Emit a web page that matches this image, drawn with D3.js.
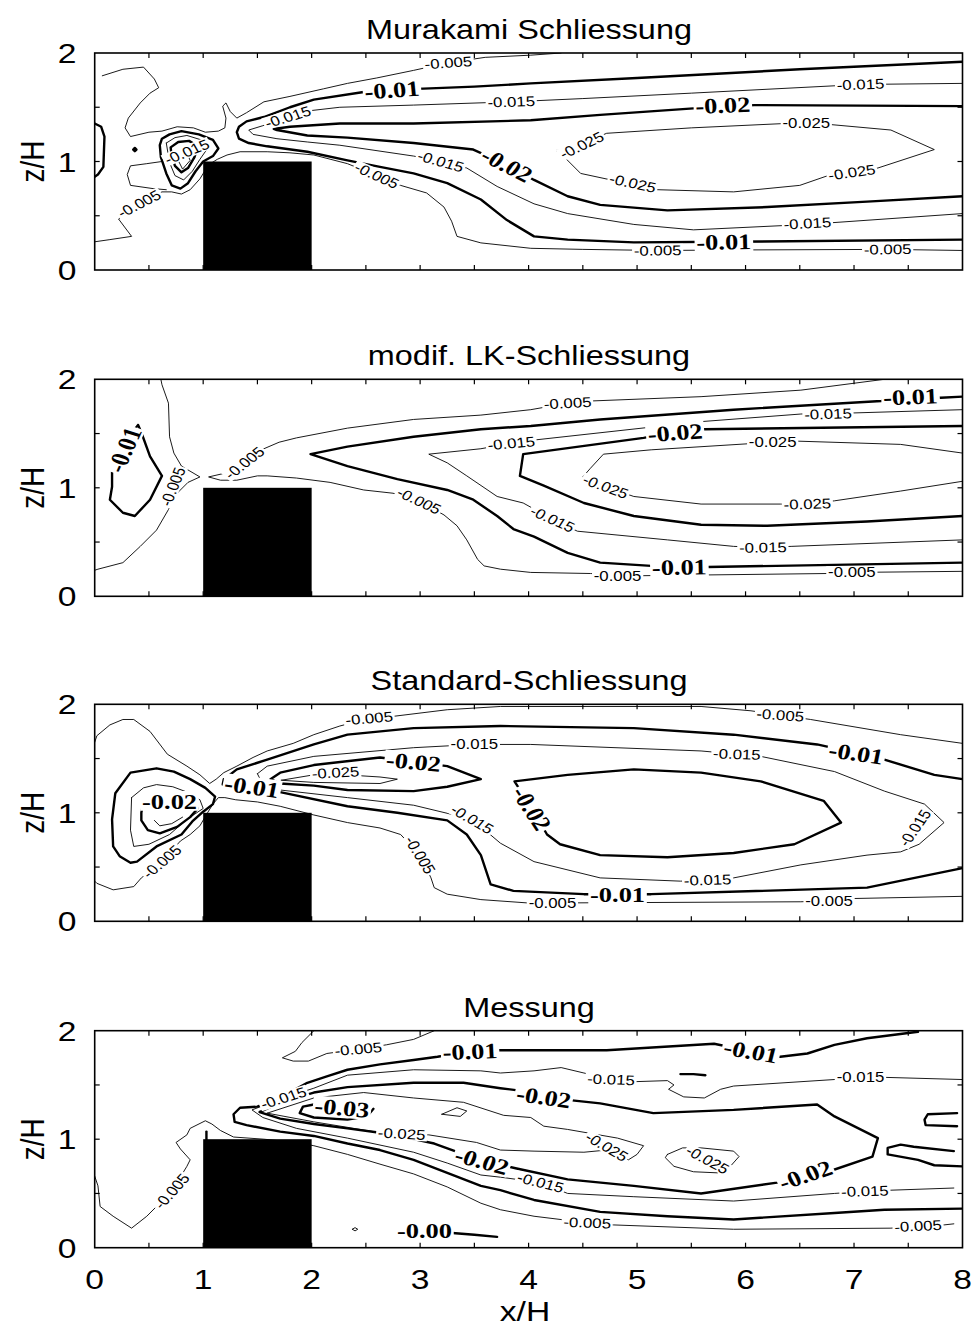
<!DOCTYPE html>
<html>
<head>
<meta charset="utf-8">
<script src="https://cdn.jsdelivr.net/npm/d3@7"></script>
<style>
  body { margin: 0; background: #fff; }
</style>
</head>
<body>
<svg id="chart" width="973" height="1327"></svg>
<script>
// ---- data -------------------------------------------------------------
const panelTitles = ["Murakami Schliessung", "modif. LK-Schliessung", "Standard-Schliessung", "Messung"];
const xTickLabels = ["0", "1", "2", "3", "4", "5", "6", "7", "8"];
const zTickLabels = ["0", "1", "2"];
const xMinorTicks = [0.5, 1, 1.5, 2, 2.5, 3, 3.5, 4, 4.5, 5, 5.5, 6, 6.5, 7, 7.5];
const zMinorTicks = [0.5, 1, 1.5];
const obstacleX = [1, 2];
const obstacleZ = [0, 1];

// contour polylines, coordinates in (x/H, z/H)
const murakamiContours = [
  { level: -0.005, pts: [[0.07,1.79],[0.26,1.85],[0.45,1.87],[0.55,1.76],[0.59,1.68],[0.51,1.63],[0.42,1.54],[0.31,1.40],[0.28,1.31],[0.33,1.23],[0.50,1.27],[0.62,1.28],[0.76,1.32],[0.91,1.31],[1.02,1.27],[1.14,1.28],[1.20,1.31],[1.21,1.40],[1.18,1.51],[1.21,1.54],[1.25,1.46],[1.31,1.40],[1.40,1.45],[1.56,1.55],[1.80,1.60],[2.11,1.67],[2.33,1.72],[2.60,1.77],[2.94,1.84],[3.26,1.91],[3.60,1.96],[4.02,1.98],[4.30,2.00]] },
  { level: -0.005, pts: [[0,0.26],[0.14,0.28],[0.34,0.31],[0.22,0.47],[0.41,0.61],[0.62,0.72],[0.71,0.72],[0.80,0.70],[0.88,0.74],[0.97,0.84],[1.05,0.97],[1.13,1.02],[1.22,1.06],[1.34,1.09],[1.59,1.09],[1.80,1.08],[2.02,1.06],[2.33,0.98],[2.60,0.87],[2.82,0.78],[3.06,0.71],[3.22,0.58],[3.29,0.45],[3.34,0.31],[3.56,0.25],[4.02,0.20],[4.50,0.19],[5.19,0.18],[6.00,0.185],[7.31,0.19],[8.00,0.18]] },
  { level: -0.005, pts: [[0.62,1.00],[0.48,0.98],[0.33,0.96],[0.30,0.88],[0.33,0.78],[0.54,0.75],[0.66,0.74]] },
  { level: -0.01, pts: [[0,1.35],[0.06,1.32],[0.09,1.23],[0.08,0.95],[0.03,0.88],[0,0.86]] },
  { level: -0.01, pts: [[0.355,1.11],[0.37,1.125],[0.385,1.11],[0.37,1.095],[0.355,1.11]] },
  { level: -0.01, pts: [[0.60,1.15],[0.62,1.21],[0.69,1.25],[0.80,1.28],[0.96,1.25],[1.09,1.20],[1.14,1.12],[1.09,1.05],[1.00,1.00],[0.93,0.91],[0.86,0.80],[0.79,0.75],[0.71,0.78],[0.66,0.89],[0.61,1.04],[0.60,1.15]] },
  { level: -0.015, pts: [[0.66,1.17],[0.74,1.22],[0.85,1.24],[0.98,1.20],[1.04,1.12],[0.97,1.02],[0.90,0.91],[0.82,0.83],[0.74,0.87],[0.69,0.99],[0.66,1.17]] },
  { level: -0.02, pts: [[0.70,1.13],[0.77,1.18],[0.87,1.19],[0.95,1.14],[0.92,1.04],[0.86,0.94],[0.80,0.90],[0.74,0.96],[0.71,1.05],[0.70,1.13]] },
  { level: -0.025, pts: [[0.76,1.03],[0.81,0.93],[0.88,1.01],[0.84,1.10],[0.77,1.10],[0.76,1.03]] },
  { level: -0.01, pts: [[8.0,1.92],[6.5,1.85],[5.0,1.77],[4.02,1.72],[3.5,1.69],[2.74,1.66],[2.48,1.64],[2.02,1.57],[1.80,1.50],[1.56,1.41],[1.40,1.37],[1.33,1.32],[1.31,1.27],[1.33,1.21],[1.42,1.17],[1.59,1.14],[1.96,1.09],[2.33,1.01],[2.63,0.95],[2.94,0.89],[3.25,0.80],[3.56,0.65],[3.80,0.46],[4.05,0.31],[4.36,0.28],[4.97,0.255],[5.80,0.26],[8.0,0.28]] },
  { level: -0.015, pts: [[8.0,1.72],[7.06,1.71],[5.5,1.63],[4.5,1.58],[3.84,1.55],[2.94,1.52],[2.26,1.50],[2.0,1.47],[1.78,1.41],[1.55,1.33],[1.42,1.29],[1.46,1.25],[1.68,1.21],[1.96,1.18],[2.26,1.15],[2.94,1.05],[3.19,1.0],[3.43,0.94],[3.71,0.77],[4.05,0.61],[4.36,0.52],[4.97,0.42],[5.52,0.37],[6.57,0.42],[8.0,0.52]] },
  { level: -0.02, pts: [[8.0,1.51],[6.08,1.52],[5.52,1.49],[4.66,1.43],[4.02,1.38],[2.94,1.35],[2.26,1.35],[1.80,1.32],[1.65,1.30],[1.68,1.29],[1.96,1.24],[2.33,1.22],[2.94,1.17],[3.49,1.11],[3.80,0.97],[4.05,0.83],[4.36,0.68],[4.66,0.60],[5.28,0.55],[6.2,0.58],[7.12,0.63],[8.0,0.68]] },
  { level: -0.025, pts: [[4.26,1.10],[4.35,1.02],[4.48,0.89],[4.76,0.83],[5.19,0.74],[5.89,0.72],[6.5,0.78],[6.76,0.87],[7.22,0.94],[7.74,1.11],[7.34,1.29],[6.79,1.34],[6.36,1.35],[5.5,1.31],[4.72,1.26],[4.6,1.21],[4.26,1.10]] }
];
const murakamiLabels = [
  ["-0.005", 3.26, 1.91, -4], ["-0.01", 2.74, 1.66, -4], ["-0.015", 1.78, 1.41, -17],
  ["-0.015", 0.85, 1.09, -22], ["-0.005", 0.41, 0.61, -27], ["-0.005", 2.60, 0.87, 24],
  ["-0.015", 3.19, 1.00, 16], ["-0.02", 3.80, 0.97, 27], ["-0.015", 3.84, 1.55, -2],
  ["-0.025", 4.49, 1.15, -25], ["-0.025", 4.96, 0.80, 12], ["-0.02", 5.79, 1.52, -2],
  ["-0.015", 7.06, 1.71, -2], ["-0.025", 6.56, 1.35, 0], ["-0.025", 6.98, 0.90, -8],
  ["-0.015", 6.57, 0.43, -3], ["-0.01", 5.80, 0.26, -1], ["-0.005", 5.19, 0.18, -1],
  ["-0.005", 7.31, 0.19, -1]
];

const lkContours = [
  { level: -0.005, pts: [[0.61,2.0],[0.62,1.95],[0.68,1.78],[0.69,1.47],[0.73,1.32],[0.80,1.20],[0.97,1.10],[0.86,1.05],[0.76,0.95],[0.68,0.80],[0.57,0.61],[0.42,0.46],[0.26,0.31],[0.03,0.25],[0,0.24]] },
  { level: -0.005, pts: [[7.28,2.0],[6.51,1.90],[5.59,1.84],[4.57,1.80],[4.36,1.78],[4.02,1.72],[3.56,1.67],[2.94,1.63],[2.33,1.55],[1.86,1.46],[1.70,1.42],[1.56,1.36],[1.39,1.24],[1.18,1.13],[1.05,1.10],[1.16,1.07],[1.31,1.07],[1.50,1.11],[1.59,1.11],[1.86,1.09],[2.17,1.05],[2.48,0.98],[2.75,0.95],[2.99,0.88],[3.22,0.75],[3.34,0.65],[3.43,0.52],[3.53,0.34],[3.59,0.28],[3.74,0.25],[4.02,0.22],[4.57,0.21],[4.80,0.20],[5.06,0.19],[6.76,0.21],[6.98,0.22],[8.0,0.23]] },
  { level: -0.01, pts: [[0.16,1.15],[0.16,1.01],[0.14,0.89],[0.26,0.77],[0.37,0.74],[0.51,0.89],[0.62,1.11],[0.51,1.29],[0.43,1.51],[0.40,1.58],[0.30,1.45],[0.20,1.25],[0.16,1.15]] },
  { level: -0.01, pts: [[8.0,1.84],[7.80,1.83],[7.52,1.84],[7.25,1.80],[5.89,1.72],[4.66,1.63],[4.02,1.57],[3.56,1.54],[2.94,1.47],[2.33,1.38],[1.99,1.31],[2.33,1.20],[2.79,1.08],[3.25,0.98],[3.49,0.89],[3.71,0.74],[3.86,0.62],[4.05,0.55],[4.36,0.40],[4.66,0.31],[5.13,0.28],[5.39,0.27],[5.65,0.27],[8.0,0.31]] },
  { level: -0.015, pts: [[8.0,1.72],[7.0,1.69],[6.76,1.69],[6.51,1.68],[5.59,1.61],[4.05,1.44],[3.84,1.41],[3.56,1.36],[3.08,1.31],[3.25,1.23],[3.43,1.11],[3.71,0.92],[3.95,0.86],[4.22,0.71],[4.45,0.60],[5.28,0.52],[5.89,0.46],[6.16,0.45],[6.42,0.46],[8.0,0.52]] },
  { level: -0.02, pts: [[8.0,1.57],[5.62,1.54],[5.35,1.51],[5.06,1.46],[3.95,1.31],[3.92,1.11],[4.14,1.02],[4.51,0.86],[4.97,0.74],[5.59,0.66],[6.2,0.65],[7.12,0.69],[8.0,0.74]] },
  { level: -0.025, pts: [[8.0,1.32],[7.43,1.40],[6.48,1.43],[6.25,1.42],[5.13,1.35],[4.69,1.31],[4.57,1.18],[4.50,1.10],[4.71,1.01],[4.97,0.92],[5.59,0.85],[6.32,0.85],[6.57,0.85],[6.82,0.88],[7.43,0.97],[8.0,1.06]] }
];
const lkLabels = [
  ["-0.01", 0.27, 1.35, -66], ["-0.005", 0.72, 1.01, -68], ["-0.005", 1.38, 1.23, -38],
  ["-0.005", 2.99, 0.88, 25], ["-0.015", 3.84, 1.41, -5], ["-0.005", 4.36, 1.78, -3],
  ["-0.02", 5.35, 1.51, -4], ["-0.025", 6.25, 1.42, 0], ["-0.015", 6.76, 1.68, -2],
  ["-0.01", 7.52, 1.84, -2], ["-0.025", 4.71, 1.01, 20], ["-0.015", 4.22, 0.71, 24],
  ["-0.025", 6.57, 0.85, -2], ["-0.015", 6.16, 0.45, -1], ["-0.01", 5.39, 0.27, -1],
  ["-0.005", 4.82, 0.19, 0], ["-0.005", 6.98, 0.22, 0]
];

const standardContours = [
  { level: -0.005, pts: [[0,1.65],[0.02,1.71],[0.14,1.81],[0.26,1.86],[0.36,1.86],[0.51,1.75],[0.67,1.54],[0.85,1.43],[0.97,1.35],[1.06,1.27],[1.12,1.31],[1.19,1.37],[1.31,1.43],[1.46,1.51],[1.59,1.57],[1.83,1.64],[2.02,1.72],[2.26,1.80],[2.53,1.87],[2.76,1.89],[3.25,1.95],[3.74,1.98],[5.59,1.98],[6.05,1.94],[6.32,1.90],[6.60,1.86],[7.43,1.72],[8.0,1.64]] },
  { level: -0.005, pts: [[0,0.37],[0.02,0.35],[0.17,0.29],[0.36,0.32],[0.43,0.40],[0.62,0.55],[0.79,0.74],[0.88,0.80],[0.97,0.88],[1.04,1.0],[1.09,1.08],[1.14,1.14],[1.20,1.14],[1.30,1.12],[1.50,1.10],[1.71,1.06],[2.02,0.98],[2.33,0.91],[2.63,0.86],[2.82,0.80],[3.0,0.61],[3.10,0.40],[3.13,0.31],[3.25,0.25],[3.56,0.20],[3.98,0.17],[4.22,0.17],[4.45,0.17],[6.51,0.18],[6.77,0.19],[7.0,0.21],[8.0,0.23]] },
  { level: -0.01, pts: [[0.19,1.18],[0.33,1.37],[0.57,1.41],[0.73,1.38],[0.88,1.31],[1.02,1.23],[1.11,1.15],[1.09,1.08],[1.00,1.01],[0.90,0.92],[0.80,0.80],[0.57,0.69],[0.39,0.55],[0.33,0.54],[0.23,0.60],[0.17,0.69],[0.16,0.94],[0.19,1.18]] },
  { level: -0.015, pts: [[0.34,1.14],[0.45,1.23],[0.57,1.26],[0.72,1.24],[0.88,1.18],[0.97,1.12],[1.0,1.04],[0.85,0.94],[0.69,0.80],[0.50,0.71],[0.36,0.69],[0.33,0.84],[0.34,1.14]] },
  { level: -0.02, pts: [[0.45,1.11],[0.43,1.0],[0.43,0.93],[0.49,0.84],[0.60,0.81],[0.76,0.87],[0.88,0.96],[0.95,1.04],[0.90,1.12],[0.70,1.15],[0.50,1.13],[0.45,1.11]] },
  { level: -0.025, pts: [[0.55,0.93],[0.60,0.88],[0.71,0.90],[0.81,0.96]] },
  { level: -0.01, pts: [[1.18,1.26],[1.19,1.31]] },
  { level: -0.01, pts: [[8.0,1.31],[7.74,1.35],[7.28,1.49],[7.02,1.55],[6.66,1.63],[5.89,1.72],[4.97,1.78],[3.74,1.80],[2.94,1.78],[2.33,1.72],[2.02,1.63],[1.59,1.49],[1.31,1.40],[1.22,1.33],[1.45,1.24],[1.71,1.19],[2.33,1.06],[2.79,1.0],[3.25,0.93],[3.43,0.80],[3.56,0.61],[3.65,0.34],[3.86,0.28],[4.51,0.25],[4.82,0.25],[5.13,0.25],[7.12,0.31],[8.0,0.49]] },
  { level: -0.015, pts: [[1.50,1.36],[1.59,1.43],[2.02,1.52],[2.94,1.60],[3.50,1.63],[4.02,1.63],[5.59,1.57],[5.92,1.54],[6.14,1.52],[6.82,1.38],[7.28,1.20],[7.65,1.08],[7.83,0.91],[7.60,0.71],[7.43,0.64],[7.12,0.61],[6.51,0.52],[5.89,0.40],[5.65,0.38],[5.40,0.37],[4.66,0.40],[4.05,0.55],[3.74,0.72],[3.48,0.94],[2.94,1.07],[2.33,1.14],[1.71,1.21],[1.55,1.26],[1.50,1.36]] },
  { level: -0.02, pts: [[1.62,1.31],[1.71,1.37],[2.02,1.44],[2.63,1.51],[2.94,1.47],[3.25,1.43],[3.56,1.31],[3.25,1.24],[2.94,1.20],[2.33,1.21],[2.02,1.25],[1.71,1.27],[1.62,1.31]] },
  { level: -0.02, pts: [[4.17,0.80],[4.29,0.71],[4.66,0.61],[5.28,0.59],[5.89,0.63],[6.45,0.71],[6.88,0.91],[6.72,1.11],[6.14,1.29],[5.59,1.37],[4.97,1.40],[4.36,1.35],[3.87,1.29],[4.03,1.04],[4.17,0.80]] },
  { level: -0.025, pts: [[1.72,1.30],[2.02,1.35],[2.22,1.37],[2.31,1.35],[2.63,1.33],[2.79,1.31],[2.63,1.27],[2.02,1.28],[1.72,1.30]] }
];
const standardLabels = [
  ["-0.005", 2.53, 1.87, -5], ["-0.015", 3.50, 1.63, 0], ["-0.02", 2.94, 1.47, 5],
  ["-0.025", 2.22, 1.37, -3], ["-0.01", 1.45, 1.24, 8], ["-0.02", 0.69, 1.11, 0],
  ["-0.005", 0.62, 0.55, -40], ["-0.015", 3.48, 0.94, 30], ["-0.005", 3.00, 0.61, 58],
  ["-0.02", 4.03, 1.04, 57], ["-0.005", 6.32, 1.90, 4], ["-0.015", 5.92, 1.54, 2],
  ["-0.01", 7.02, 1.55, 8], ["-0.015", 7.56, 0.86, -55], ["-0.015", 5.65, 0.38, -2],
  ["-0.01", 4.82, 0.25, 0], ["-0.005", 4.22, 0.17, 0], ["-0.005", 6.77, 0.19, 0]
];

const messungContours = [
  { level: -0.005, pts: [[0,0.66],[0.03,0.57],[0.05,0.38],[0.17,0.29],[0.34,0.18],[0.48,0.29],[0.71,0.52],[0.85,0.75],[0.88,0.81],[0.79,0.91],[0.75,0.97],[0.85,1.04],[0.88,1.10],[1.02,1.17],[1.08,1.14],[1.16,1.08],[1.28,1.02],[1.56,1.0],[1.86,0.97],[2.02,0.94],[2.33,0.86],[2.63,0.77],[2.94,0.68],[3.25,0.56],[3.56,0.41],[3.74,0.35],[4.05,0.29],[4.54,0.23],[4.78,0.21],[5.89,0.17],[7.34,0.18],[7.59,0.20],[7.83,0.21],[7.92,0.22]] },
  { level: -0.005, pts: [[2.02,2.0],[1.91,1.89],[1.85,1.81],[1.73,1.75],[1.83,1.72],[1.97,1.72],[2.14,1.79],[2.43,1.83],[2.69,1.87],[2.94,1.92],[3.13,2.0]] },
  { level: -0.01, pts: [[7.59,1.99],[7.12,1.93],[6.82,1.87],[6.57,1.79],[6.32,1.76],[6.05,1.81],[5.71,1.88],[4.72,1.82],[4.36,1.82],[3.74,1.82],[3.46,1.81],[3.16,1.76],[2.94,1.73],[2.63,1.69],[2.33,1.64],[2.14,1.58],[1.96,1.52],[1.74,1.40],[1.50,1.30],[1.34,1.29],[1.28,1.23],[1.29,1.16],[1.40,1.13],[1.71,1.07],[2.02,1.03],[2.33,0.96],[2.63,0.90],[2.94,0.81],[3.25,0.69],[3.56,0.57],[3.74,0.53],[4.05,0.44],[4.66,0.33],[5.28,0.29],[5.89,0.26],[6.82,0.32],[7.28,0.35],[8.0,0.36]] },
  { level: -0.01, pts: [[5.40,1.60],[5.52,1.60],[5.63,1.59]] },
  { level: -0.015, pts: [[8.0,1.55],[7.28,1.57],[7.06,1.57],[6.82,1.55],[5.89,1.49],[5.77,1.46],[5.62,1.38],[5.43,1.39],[5.29,1.46],[5.34,1.50],[5.28,1.54],[4.97,1.53],[4.76,1.55],[4.51,1.61],[4.30,1.66],[4.05,1.63],[3.74,1.61],[3.56,1.63],[2.94,1.64],[2.33,1.59],[2.02,1.47],[1.74,1.38],[1.45,1.27],[1.55,1.20],[1.86,1.10],[2.33,1.01],[2.94,0.88],[3.25,0.78],[3.56,0.67],[3.74,0.65],[4.11,0.60],[4.36,0.50],[4.97,0.47],[5.89,0.43],[6.82,0.50],[7.10,0.52],[7.34,0.53],[7.92,0.55]] },
  { level: -0.02, pts: [[1.52,1.25],[1.71,1.34],[2.02,1.43],[2.33,1.48],[2.94,1.52],[3.40,1.52],[3.74,1.47],[3.90,1.45],[4.14,1.39],[4.38,1.36],[4.66,1.33],[5.15,1.24],[5.89,1.27],[6.66,1.32],[6.82,1.21],[7.22,1.01],[7.17,0.84],[6.76,0.70],[6.55,0.67],[6.29,0.60],[5.59,0.50],[4.97,0.57],[4.36,0.63],[3.89,0.73],[3.57,0.80],[3.13,0.96],[2.94,1.0],[2.63,1.06],[2.33,1.10],[2.02,1.14],[1.71,1.19],[1.52,1.25]] },
  { level: -0.02, pts: [[7.95,1.24],[7.68,1.23],[7.65,1.18],[7.66,1.13],[7.95,1.12]] },
  { level: -0.02, pts: [[7.92,0.89],[7.55,0.93],[7.43,0.95],[7.31,0.92],[7.31,0.86],[7.59,0.81],[7.74,0.76],[8.0,0.75]] },
  { level: -0.025, pts: [[1.59,1.24],[2.02,1.38],[2.48,1.43],[2.94,1.38],[3.40,1.34],[3.77,1.22],[4.02,1.20],[4.14,1.12],[4.36,1.09],[4.82,1.01],[5.06,0.94],[5.0,0.86],[4.92,0.81],[4.72,0.90],[4.51,0.88],[4.05,0.89],[3.74,0.90],[3.52,0.97],[3.08,1.04],[2.83,1.05],[2.57,1.07],[2.02,1.16],[1.59,1.24]] },
  { level: -0.025, pts: [[3.20,1.23],[3.34,1.29],[3.43,1.26],[3.37,1.21],[3.20,1.23]] },
  { level: -0.025, pts: [[5.28,0.86],[5.42,0.92],[5.59,0.92],[5.89,0.89],[5.94,0.84],[5.86,0.75],[5.74,0.69],[5.52,0.70],[5.34,0.75],[5.26,0.83],[5.28,0.86]] },
  { level: -0.03, pts: [[2.02,1.32],[1.92,1.30],[1.89,1.24],[2.02,1.20],[2.33,1.18],[2.51,1.21],[2.57,1.28]] },
  { level: -0.01, pts: [[3.24,0.14],[3.50,0.12],[3.71,0.10]] },
  { level: -0.005, pts: [[2.375,0.17],[2.40,0.185],[2.425,0.17],[2.40,0.155],[2.375,0.17]] },
  { level: -0.01, pts: [[1.03,1.0],[1.03,1.07]] }
];
const messungLabels = [
  ["-0.005", 0.71, 0.52, -48], ["-0.005", 2.43, 1.83, -5], ["-0.01", 3.46, 1.81, -2],
  ["-0.015", 1.74, 1.38, -17], ["-0.03", 2.28, 1.29, 5], ["-0.025", 2.83, 1.05, 3],
  ["-0.02", 3.57, 0.80, 15], ["-0.015", 4.11, 0.60, 14], ["-0.02", 4.14, 1.39, 8],
  ["-0.015", 4.76, 1.55, 2], ["-0.01", 6.05, 1.81, 10], ["-0.015", 7.06, 1.57, 0],
  ["-0.025", 4.72, 0.93, 30], ["-0.025", 5.65, 0.81, 28], ["-0.02", 6.55, 0.67, -18],
  ["-0.015", 7.10, 0.52, -2], ["-0.005", 4.54, 0.23, 2], ["-0.005", 7.59, 0.20, -3],
  ["-0.00", 3.04, 0.16, 0]
];

const panels = [
  { title: panelTitles[0], contours: murakamiContours, labels: murakamiLabels },
  { title: panelTitles[1], contours: lkContours, labels: lkLabels },
  { title: panelTitles[2], contours: standardContours, labels: standardLabels },
  { title: panelTitles[3], contours: messungContours, labels: messungLabels }
];

// ---- drawing ----------------------------------------------------------
const svg = d3.select("#chart");
const SX = 1.2;                       // horizontal glyph stretch of the lettering
const sans = "'Liberation Sans', Arial, Helvetica, sans-serif";
const serif = "'Liberation Serif', 'Times New Roman', serif";
const panelTops = [53, 379.3, 704.3, 1030.7];
const panelHeight = 217;
const thinLabelSize = 14;
const boldLabelSize = 22;

const xScale = d3.scaleLinear().domain([0, 8]).range([94.7, 962.5]);

// a whole-hundredth contour level is drawn heavy
const isMajor = lv => Math.abs(lv * 100 - Math.round(lv * 100)) < 1e-6;

// group with a horizontal stretch; angle is the on-screen angle in degrees
function stretchedGroup(parent, px, py, angle) {
  const r = angle * Math.PI / 180;
  const a = Math.abs(angle) === 90 ? angle : Math.atan2(SX * Math.sin(r), Math.cos(r)) * 180 / Math.PI;
  return parent.append("g")
    .attr("transform", `translate(${px},${py}) scale(${SX},1) rotate(${a})`);
}
function stretchedText(parent, px, py, str, angle) {
  return stretchedGroup(parent, px, py, angle)
    .append("text")
    .attr("text-anchor", "middle")
    .text(str);
}

const defs = svg.append("defs");

panels.forEach((p, i) => {
  const top = panelTops[i];
  const yScale = d3.scaleLinear().domain([0, 2]).range([top + panelHeight, top]);
  const line = d3.line().x(d => xScale(d[0])).y(d => yScale(d[1]));
  const g = svg.append("g");

  defs.append("clipPath").attr("id", "plotclip" + i)
    .append("rect")
    .attr("x", xScale(0)).attr("y", yScale(2))
    .attr("width", xScale(8) - xScale(0)).attr("height", yScale(0) - yScale(2));

  const plot = g.append("g").attr("clip-path", `url(#plotclip${i})`);

  // contour lines
  plot.selectAll("path.contour")
    .data(p.contours)
    .join("path")
    .attr("class", "contour")
    .attr("d", d => line(d.pts))
    .attr("fill", "none")
    .attr("stroke", "#000")
    .attr("stroke-width", d => isMajor(d.level) ? 2.4 : 0.9)
    .attr("stroke-linejoin", "round")
    .attr("stroke-linecap", "round");

  // contour labels on a white patch that opens the line
  p.labels.forEach(([txt, lx, lz, ang]) => {
    const bold = /^-0\.0\d$/.test(txt);
    const fs = bold ? boldLabelSize : thinLabelSize;
    const lg = stretchedGroup(plot, xScale(lx), yScale(lz), ang);
    const patch = lg.append("rect").attr("fill", "#fff");
    const t = lg.append("text")
      .attr("text-anchor", "middle")
      .attr("dy", "0.35em")
      .attr("font-family", bold ? serif : sans)
      .attr("font-weight", bold ? "bold" : "normal")
      .attr("font-size", fs)
      .attr("fill", "#000")
      .text(txt);
    const bb = t.node().getBBox();
    patch.attr("x", bb.x - 1.5).attr("width", bb.width + 3)
      .attr("y", -0.45 * fs).attr("height", 0.9 * fs);
  });

  // building
  g.append("rect")
    .attr("x", xScale(obstacleX[0]))
    .attr("y", yScale(obstacleZ[1]))
    .attr("width", xScale(obstacleX[1]) - xScale(obstacleX[0]))
    .attr("height", yScale(obstacleZ[0]) - yScale(obstacleZ[1]))
    .attr("fill", "#000");

  // frame
  g.append("rect")
    .attr("x", xScale(0)).attr("y", yScale(2))
    .attr("width", xScale(8) - xScale(0)).attr("height", yScale(0) - yScale(2))
    .attr("fill", "none").attr("stroke", "#000").attr("stroke-width", 1.6);

  // inward ticks on all four sides
  const tk = 5;
  xMinorTicks.forEach(v => {
    g.append("line").attr("x1", xScale(v)).attr("x2", xScale(v))
      .attr("y1", yScale(0)).attr("y2", yScale(0) - tk).attr("stroke", "#000").attr("stroke-width", 1.2);
    g.append("line").attr("x1", xScale(v)).attr("x2", xScale(v))
      .attr("y1", yScale(2)).attr("y2", yScale(2) + tk).attr("stroke", "#000").attr("stroke-width", 1.2);
  });
  zMinorTicks.forEach(v => {
    g.append("line").attr("x1", xScale(0)).attr("x2", xScale(0) + tk)
      .attr("y1", yScale(v)).attr("y2", yScale(v)).attr("stroke", "#000").attr("stroke-width", 1.2);
    g.append("line").attr("x1", xScale(8)).attr("x2", xScale(8) - tk)
      .attr("y1", yScale(v)).attr("y2", yScale(v)).attr("stroke", "#000").attr("stroke-width", 1.2);
  });

  // z tick labels
  zTickLabels.forEach(t => {
    stretchedText(g, 67, yScale(+t), t, 0)
      .attr("dy", "0.36em")
      .attr("font-family", sans).attr("font-size", 28).attr("fill", "#000");
  });

  // axis title on the left
  stretchedText(g, 44, top + panelHeight / 2, "z/H", -90)
    .attr("font-family", sans).attr("font-size", 28).attr("fill", "#000");

  // panel title
  stretchedText(g, 529, top - 14, p.title, 0)
    .attr("font-family", sans).attr("font-size", 27).attr("fill", "#000");

  // x tick labels and axis title below the last panel
  if (i === panels.length - 1) {
    xTickLabels.forEach(t => {
      stretchedText(g, xScale(+t), 1289, t, 0)
        .attr("font-family", sans).attr("font-size", 28).attr("fill", "#000");
    });
    stretchedText(g, 525, 1321, "x/H", 0)
      .attr("font-family", sans).attr("font-size", 28).attr("fill", "#000");
  }
});
</script>
</body>
</html>
